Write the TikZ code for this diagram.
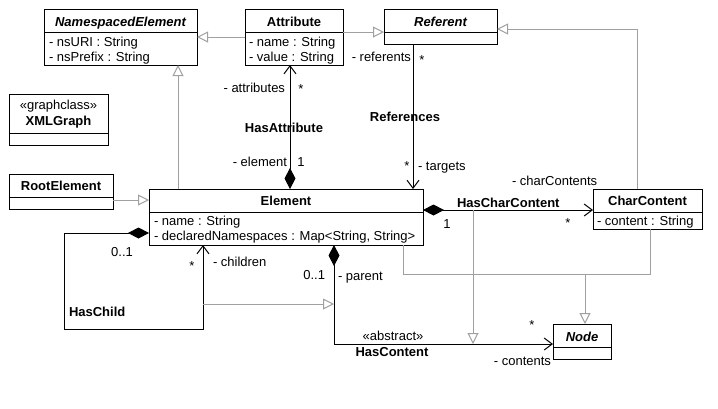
\documentclass[tikz,border=0pt]{standalone}
\usepackage{fontspec}
\setmainfont{Liberation Sans}
\usetikzlibrary{arrows.meta,calc}
\definecolor{ggray}{RGB}{160,160,160}
\newcommand\fs{\fontsize{13}{15}\selectfont}
\newcommand\umlbox[6]{%
  \pgfmathsetmacro\bw{#4-#2}\pgfmathsetmacro\bh{#5-#3}%
  \pgfmathsetmacro\bs{#6-#3}%
  \node[box, minimum width=\bw pt, minimum height=\bh pt, anchor=north west] (#1) at (#2,#3) {};
  \draw[line width=1pt] ([yshift=-\bs pt]#1.north west) -- ([yshift=-\bs pt]#1.north east);
}
\tikzset{
  box/.style={draw, line width=1pt, inner sep=0, outer sep=0, fill=white},
  lbl/.style={inner sep=0, outer sep=0, font=\fs},
  ttl/.style={inner sep=0, outer sep=0, font=\fs\bfseries},
  itl/.style={inner sep=0, outer sep=0, font=\fs\bfseries\itshape},
  gen/.style={draw=ggray, line width=1pt, -{Triangle[length=11pt, width=11pt, fill=white]}},
  gline/.style={draw=ggray, line width=1pt},
  assoc/.style={line width=1pt, -{Straight Barb[length=8pt, width=12pt]}},
  comp/.style={line width=1pt, {Diamond[length=21pt, width=11pt]}-{Straight Barb[length=8pt, width=12pt]}},
}
\begin{document}
\begin{tikzpicture}[x=1pt, y=-1pt]
\useasboundingbox[fill=white] (0,0) rectangle (718,408);

% ---------- boxes ----------
\umlbox{ns}{44}{9}{197}{65}{32}
\umlbox{attr}{245}{9}{343}{65}{32}
\umlbox{ref}{384}{9}{497}{44}{32}
\umlbox{xg}{9}{94}{108}{145}{133}
\umlbox{root}{9}{174}{113}{209}{197}
\umlbox{elem}{149}{189}{423}{245}{212}
\umlbox{cc}{593}{189}{702}{229}{212}
\umlbox{node}{553}{324}{611}{359}{347}

% ---------- box texts ----------
\node[itl, anchor=base] (nsT) at (120.5,26) {NamespacedElement};
\node[lbl, anchor=base west] (nsA1) at (49,46) {- nsURI : String};
\node[lbl, anchor=base west] (nsA2) at (49,61) {- nsPrefix : String};

\node[ttl, anchor=base] (attrT) at (294,26) {Attribute};
\node[lbl, anchor=base west] (attrA1) at (249,46) {- name : String};
\node[lbl, anchor=base west] (attrA2) at (249,61) {- value : String};

\node[itl, anchor=base] (refT) at (440.5,26) {Referent};

\node[lbl, anchor=base] (xgS) at (58.5,109) {«graphclass»};
\node[ttl, anchor=base] (xgT) at (58.5,125) {XMLGraph};

\node[ttl, anchor=base] (rootT) at (61,190) {RootElement};

\node[ttl, anchor=base] (elemT) at (286,205) {Element};
\node[lbl, anchor=base west] (elemA1) at (154,225) {- name : String};
\node[lbl, anchor=base west] (elemA2) at (154,240.5) {- declaredNamespaces : Map<String, String>};

\node[ttl, anchor=base] (ccT) at (647.5,205) {CharContent};
\node[lbl, anchor=base west] (ccA1) at (597,225) {- content : String};

\node[itl, anchor=base] (nodeT) at (582,341) {Node};

% ---------- generalizations ----------
\draw[gen] ([yshift=-28pt]attr.north west) -- ([yshift=-28pt]ns.north east);
\draw[gen] ([yshift=-23pt]attr.north east) -- ([yshift=-23pt]ref.north west);
\coordinate (ccg) at ([xshift=44pt]cc.north west);
\coordinate (refg) at ([yshift=-20pt]ref.north east);
\draw[gen] (ccg) |- (refg);
\coordinate (eg1) at ([xshift=29pt]elem.north west);
\draw[gen] (eg1) -- (eg1 |- ns.south);
\coordinate (rg) at ([yshift=-26pt]root.north east);
\draw[gen] (rg) -- (rg -| elem.west);

% Element / CharContent -> Node
\coordinate (eg2) at ([xshift=-20pt]elem.south east);
\coordinate (cg2) at ([xshift=57pt]cc.south west);
\coordinate (jr) at (585,274);
\coordinate (ng) at ([xshift=32pt]node.north west);
\draw[gline] (eg2) |- (cg2 |- jr) -- (cg2);
\draw[gen] (jr) -- (ng);

% ---------- associations ----------
% HasAttribute
\coordinate (ha) at ([xshift=141pt]elem.north west);
\draw[comp] (ha) -- (ha |- attr.south);
\node[lbl, anchor=base east] (haL1) at (285,92) {- attributes};
\node[lbl, anchor=base] (haL2) at (301,93) {*};
\node[ttl, anchor=base] (haN) at (284,132) {HasAttribute};
\node[lbl, anchor=base east] (haL3) at (287,166) {- element};
\node[lbl, anchor=base] (haL4) at (301,166) {1};

% References
\coordinate (rf) at ([xshift=29pt]ref.south west);
\draw[assoc] (rf) -- (rf |- elem.north);
\node[lbl, anchor=base east] (rfL1) at (411,61) {- referents};
\node[lbl, anchor=base] (rfL2) at (422,64) {*};
\node[ttl, anchor=base] (rfN) at (405,121) {References};
\node[lbl, anchor=base] (rfL3) at (407,170) {*};
\node[lbl, anchor=base west] (rfL4) at (418,170) {- targets};

% HasCharContent
\coordinate (hcc0) at ([yshift=-21pt]elem.north east);
\draw[comp] (hcc0) -- (hcc0 -| cc.west);
\node[ttl, anchor=base west] (hccN) at (457,207) {HasCharContent};
\node[lbl, anchor=base west] (hccL1) at (512,185) {- charContents};
\node[lbl, anchor=base] (hccL2) at (447,228) {1};
\node[lbl, anchor=base] (hccL3) at (568,227) {*};

% HasChild
\coordinate (hc0) at ([yshift=-44pt]elem.north west);
\coordinate (hcl) at (64,329);
\coordinate (hcr) at (203,329);
\draw[comp] (hc0) -| (hcl) -- (hcr) -- (hcr |- elem.south);
\node[lbl, anchor=base] (hcL1) at (122,256) {0..1};
\node[lbl, anchor=base] (hcL2) at (192,270) {*};
\node[lbl, anchor=base west] (hcL3) at (213,266) {- children};
\node[ttl, anchor=base west] (hcN) at (69,316) {HasChild};

% HasContent
\coordinate (hcn) at ([xshift=185pt]elem.south west);
\coordinate (nw) at ([yshift=-20pt]node.north west);
\draw[comp] (hcn) |- (nw);
\node[lbl, anchor=base east] (hcnL1) at (325,279) {0..1};
\node[lbl, anchor=base west] (hcnL2) at (338,280) {- parent};
\node[lbl, anchor=base] (hcnS) at (393,340) {«abstract»};
\node[ttl, anchor=base] (hcnN) at (392,356) {HasContent};
\node[lbl, anchor=base] (hcnL3) at (532,329) {*};
\node[lbl, anchor=base east] (hcnL4) at (551,365) {- contents};

% HasChild -> HasContent, HasCharContent -> HasContent
\coordinate (hg) at (203,304);
\draw[gen] (hg) -- (hg -| hcn);
\coordinate (hccg) at (473,210);
\draw[gen] (hccg) -- (hccg |- nw);
\end{tikzpicture}
\end{document}
